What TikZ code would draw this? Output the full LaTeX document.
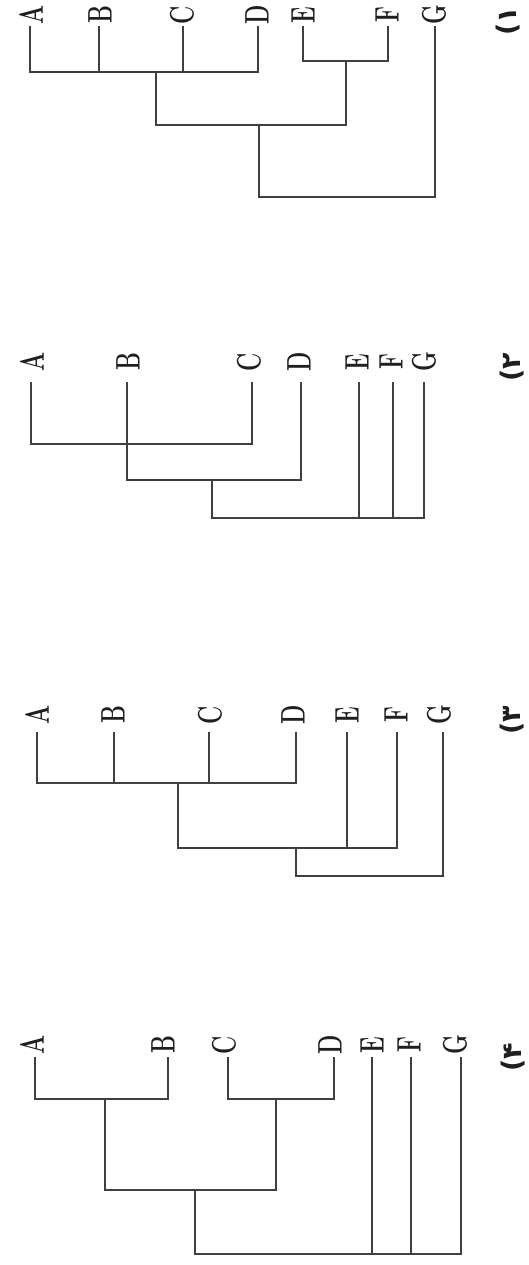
\documentclass[tikz,border=0pt]{standalone}
\usepackage{graphicx}
\usepackage{fontspec}
\newfontfamily\pfont{DejaVu Sans}
\definecolor{ink}{gray}{0.25}
\definecolor{txt}{gray}{0.12}
\tikzset{
  br/.style={draw=ink, line width=1.6pt, line cap=rect, line join=miter},
  lab/.style={rotate=90, inner sep=0pt, text=txt, font=\fontsize{34}{34}\selectfont\bfseries},
  plab/.style={rotate=90, inner sep=0pt, text=txt, font=\pfont\fontsize{27}{27}\selectfont\bfseries},
}
\newcommand{\nl}[1]{\scalebox{0.66}[1]{#1}}
\begin{document}
\begin{tikzpicture}[x=1pt, y=-1pt]
\useasboundingbox (0,0) rectangle (528,1265);

% ---------------- Panel 1 ----------------
\foreach \n/\x in {A/31,B/100,C/182,D/257,E/303,F/387,G/434}{
  \node[lab] (l1\n) at (\x,15) {\nl{\n}};
}
\foreach \n/\x in {A/30,B/99,C/183,D/258,E/303,F/388,G/435}{
  \coordinate (p1\n) at (\x,27);
}
\node[plab] (n1) at (508,21) {(۱};
\coordinate (p1abcd) at (156,72);
\coordinate (p1ef) at (346,61);
\coordinate (p1m) at (259,125);
\coordinate (p1r) at (259,197);
\draw[br] (p1A) |- (p1abcd) -| (p1D);
\draw[br] (p1B) -- (p1B |- p1abcd);
\draw[br] (p1C) -- (p1C |- p1abcd);
\draw[br] (p1E) |- (p1ef) -| (p1F);
\draw[br] (p1abcd) |- (p1m) -| (p1ef);
\draw[br] (p1m) -- (p1r) -| (p1G);

% ---------------- Panel 2 ----------------
\foreach \n/\x in {A/32,B/128,C/249,D/299,E/357,F/391,G/424}{
  \node[lab] (l2\n) at (\x,362) {\nl{\n}};
}
\foreach \n/\x in {A/31,B/127,C/252,D/301,E/359,F/393,G/424}{
  \coordinate (p2\n) at (\x,383);
}
\node[plab] (n2) at (512,367) {(۲};
\coordinate (p2ac) at (127,444);
\coordinate (p2bd) at (212,480);
\coordinate (p2r) at (359,518);
\draw[br] (p2A) |- (p2ac) -| (p2C);
\draw[br] (p2B) |- (p2bd) -| (p2D);
\draw[br] (p2bd) |- (p2r) -| (p2G);
\draw[br] (p2E) -- (p2r);
\draw[br] (p2F) -- (p2F |- p2r);

% ---------------- Panel 3 ----------------
\foreach \n/\x in {A/37,B/113,C/210,D/293,E/347,F/396,G/439}{
  \node[lab] (l3\n) at (\x,715) {\nl{\n}};
}
\foreach \n/\x in {A/37,B/114,C/209,D/296,E/347,F/397,G/443}{
  \coordinate (p3\n) at (\x,733);
}
\node[plab] (n3) at (512,720) {(۳};
\coordinate (p3abcd) at (178,783);
\coordinate (p3ef) at (296,848);
\coordinate (p3r) at (296,876);
\draw[br] (p3A) |- (p3abcd) -| (p3D);
\draw[br] (p3B) -- (p3B |- p3abcd);
\draw[br] (p3C) -- (p3C |- p3abcd);
\draw[br] (p3abcd) |- (p3ef) -| (p3F);
\draw[br] (p3E) -- (p3E |- p3ef);
\draw[br] (p3ef) -- (p3r) -| (p3G);

% ---------------- Panel 4 ----------------
\foreach \n/\x in {A/32,B/163,C/224,D/330,E/372,F/409,G/455}{
  \node[lab] (l4\n) at (\x,1045) {\nl{\n}};
}
\foreach \n/\x in {A/35,B/168,C/228,D/334,E/372,F/411,G/461}{
  \coordinate (p4\n) at (\x,1058);
}
\node[plab] (n4) at (513,1057) {(۴};
\coordinate (p4ab) at (105,1099);
\coordinate (p4cd) at (276,1099);
\coordinate (p4m) at (195,1190);
\coordinate (p4r) at (195,1254);
\draw[br] (p4A) |- (p4ab) -| (p4B);
\draw[br] (p4C) |- (p4cd) -| (p4D);
\draw[br] (p4ab) |- (p4m) -| (p4cd);
\draw[br] (p4m) -- (p4r) -| (p4G);
\draw[br] (p4E) -- (p4E |- p4r);
\draw[br] (p4F) -- (p4F |- p4r);
\end{tikzpicture}
\end{document}
